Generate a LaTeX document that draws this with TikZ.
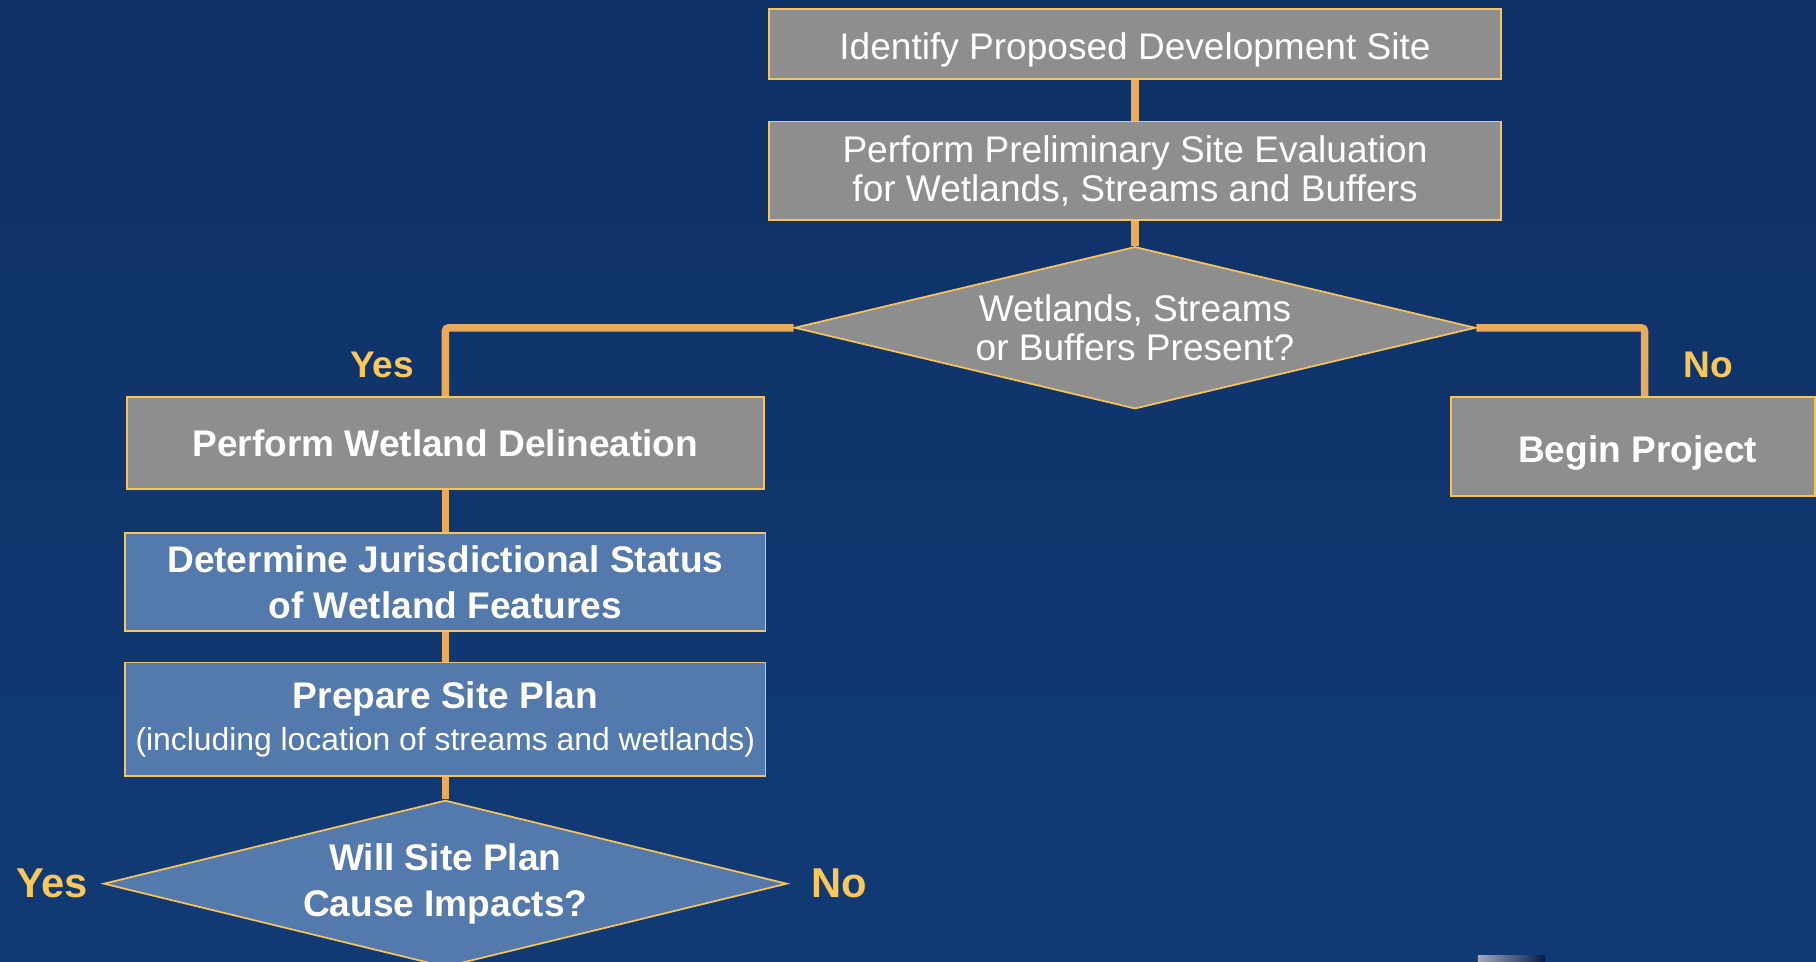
\documentclass[tikz,border=0pt]{standalone}
\usepackage{fontspec}
\setmainfont{Liberation Sans}
\usetikzlibrary{shapes.geometric,backgrounds}

\definecolor{bgtop}{RGB}{14,49,102}
\definecolor{bgbot}{RGB}{17,58,117}
\definecolor{boxgray}{RGB}{142,142,142}
\definecolor{boxblue}{RGB}{84,121,172}
\definecolor{edgeline}{RGB}{247,196,92}
\definecolor{linkline}{RGB}{233,170,92}
\definecolor{answer}{RGB}{250,200,90}
\definecolor{stripL}{RGB}{165,170,186}
\definecolor{stripR}{RGB}{3,28,75}

% move a single line of text inside its box without changing the box size
\newcommand{\nudge}[3]{\raisebox{#2}[\height][\depth]{\hspace*{#1}#3}}

\begin{document}
\begin{tikzpicture}[x=1pt,y=-1pt,
  stepbox/.style={rectangle, draw=edgeline, line width=1.5pt, text=white,
    align=center, inner sep=0pt, font=\fontsize{32}{34}\selectfont},
  graybox/.style={stepbox, fill=boxgray},
  boldgray/.style={graybox, font=\fontsize{32}{34}\selectfont\bfseries},
  bluebox/.style={stepbox, fill=boxblue, font=\fontsize{32}{40}\selectfont\bfseries},
  query/.style={diamond, draw=edgeline, line width=1.5pt, text=white,
    align=center, inner sep=0pt},
  link/.style={draw=linkline, line width=6.5pt, rounded corners=3pt},
  answertext/.style={text=answer, inner sep=0pt, font=\fontsize{32}{34}\selectfont\bfseries},
  biganswer/.style={answertext, font=\fontsize{36}{38}\selectfont\bfseries}
]
\useasboundingbox (0,0) rectangle (1568,830);

% process boxes and decisions
\node[graybox, minimum width=632pt, minimum height=60pt] (site) at (980,38)
  {\nudge{0pt}{-5pt}{Identify Proposed Development Site}};
\node[graybox, minimum width=632pt, minimum height=85pt] (prelim) at (980,147.5)
  {Perform Preliminary Site Evaluation\\for Wetlands, Streams and Buffers};
\node[query, fill=boxgray, minimum width=588pt, minimum height=140pt, aspect=4.2,
  font=\fontsize{32}{33}\selectfont] (present) at (980,283)
  {Wetlands, Streams\\or Buffers Present?};
\node[boldgray, minimum width=550pt, minimum height=79pt] (delin) at (384.5,382.5)
  {Perform Wetland Delineation};
\node[boldgray, minimum width=314pt, minimum height=85pt] (begin) at (1410,385.5)
  {\nudge{8pt}{-6pt}{Begin Project}};
\node[bluebox, minimum width=553pt, minimum height=85pt] (status) at (384.5,502.5)
  {Determine Jurisdictional Status\\of Wetland Features};
\node[bluebox, font=\fontsize{32}{36}\selectfont, minimum width=553pt, minimum height=98pt]
  (plan) at (384.5,621)
  {{\bfseries Prepare Site Plan}\\{\fontsize{27.5}{36}\selectfont (including location of streams and wetlands)}};
\node[query, fill=boxblue, minimum width=590pt, minimum height=144pt, aspect=4.1,
  font=\fontsize{32}{40}\selectfont\bfseries] (impact) at (384.5,763)
  {Will Site Plan\\Cause Impacts?};

% branch labels
\node[answertext] (yesA) at (330,315) {Yes};
\node[answertext] (noA) at (1475,315) {No};
\node[biganswer] (yesB) at (45,763) {Yes};
\node[biganswer] (noB) at (725,763) {No};

\begin{scope}[on background layer]
  \fill[top color=bgtop, bottom color=bgbot] (0,0) rectangle (1568,830);
  \shade[left color=stripL, right color=stripR] (1276,825) rectangle (1334,830);
  % connectors
  \draw[link] (site.south) -- (prelim.north);
  \draw[link] (prelim.south) -- (present.north);
  \draw[link] (present.west) -| (delin.north);
  \draw[link] (present.east) -| ([xshift=10pt]begin.north);
  \draw[link] (delin.south) -- (status.north);
  \draw[link] (status.south) -- (plan.north);
  \draw[link] (plan.south) -- (impact.north);
\end{scope}
\end{tikzpicture}
\end{document}
